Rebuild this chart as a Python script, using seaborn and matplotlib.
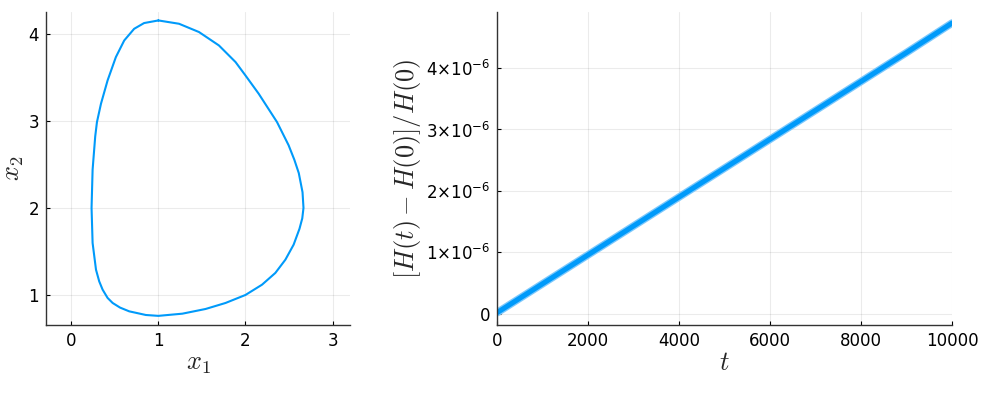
import numpy as np
import matplotlib
matplotlib.use('Agg')
import matplotlib.pyplot as plt
import seaborn as sns
import pandas as pd

# ─── Data ────────────────────────────────────────────────────────────────────
X1 = [1.000, 0.836, 0.722, 0.608, 0.512, 0.417, 0.341, 0.295, 0.275, 0.245,
      0.233, 0.245, 0.284, 0.321, 0.360, 0.417, 0.475, 0.560, 0.665, 0.856,
      1.000, 1.275, 1.542, 1.771, 2.000, 2.190, 2.343, 2.458, 2.553, 2.620,
      2.652, 2.666, 2.655, 2.612, 2.561, 2.495, 2.362, 2.152, 2.000, 1.886,
      1.695, 1.466, 1.237, 1.000]
X2 = [4.153, 4.123, 4.057, 3.923, 3.732, 3.464, 3.196, 2.986, 2.821, 2.439,
      2.000, 1.597, 1.290, 1.156, 1.061, 0.966, 0.908, 0.855, 0.812, 0.770,
      0.760, 0.785, 0.839, 0.908, 1.000, 1.118, 1.253, 1.405, 1.578, 1.760,
      1.880, 2.000, 2.180, 2.400, 2.553, 2.720, 2.986, 3.311, 3.521, 3.675,
      3.866, 4.020, 4.115, 4.153]

T_VALS   = [0, 1000, 2000, 3000, 4000, 5000, 6000, 7000, 8000, 9000, 10000]
REL_ERR  = [0.02, 0.49, 0.96, 1.43, 1.90, 2.37, 2.84, 3.31, 3.78, 4.25, 4.73]  # x1e-6
Y_TICKS  = [0, 1, 2, 3, 4]
Y_LABELS = ['0'] + [f'{k}×10$^{{-6}}$' for k in Y_TICKS[1:]]

BLUE = '#009AFA'

# ─── Style ───────────────────────────────────────────────────────────────────
sns.set_theme(style='ticks')
plt.rcParams['font.family'] = ['DejaVu Sans']
plt.rcParams['mathtext.fontset'] = 'cm'

fig = plt.figure(figsize=(10, 4), dpi=100)
ax1 = fig.add_axes([0.046, 0.1875, 0.304, 0.7825])
ax2 = fig.add_axes([0.497, 0.1875, 0.455, 0.7825])

# ─── Left: orbit ─────────────────────────────────────────────────────────────
orbit = pd.DataFrame({'x1': X1, 'x2': X2})
sns.lineplot(data=orbit, x='x1', y='x2', sort=False, estimator=None,
             color=BLUE, lw=1.5, ax=ax1)
ax1.set_xlim(-0.29, 3.2)
ax1.set_ylim(0.655, 4.25)
ax1.set_xticks([0, 1, 2, 3])
ax1.set_yticks([1, 2, 3, 4])
ax1.set_xlabel('$x_1$', fontsize=19, labelpad=0)
ax1.set_ylabel('$x_2$', fontsize=19, labelpad=2)

# ─── Right: relative energy error ────────────────────────────────────────────
err = pd.DataFrame({'t': T_VALS, 'err': np.array(REL_ERR) * 1e-6})
sns.lineplot(data=err, x='t', y='err', color='#7cc8fc', lw=5.5, ax=ax2)
sns.lineplot(data=err, x='t', y='err', color=BLUE, lw=3.6, ax=ax2)
ax2.set_xlim(0, 10000)
ax2.set_ylim(-0.18e-6, 4.91e-6)
ax2.set_xticks([0, 2000, 4000, 6000, 8000, 10000])
ax2.set_yticks([v * 1e-6 for v in Y_TICKS])
ax2.set_yticklabels(Y_LABELS, math_fontfamily='dejavusans')
ax2.set_xlabel('$t$', fontsize=19, labelpad=0)
ax2.set_ylabel('$[H(t)-H(0)]/H(0)$', fontsize=19, labelpad=2)

for ax in (ax1, ax2):
    ax.grid(True, color='black', alpha=0.08, lw=0.8)
    sns.despine(ax=ax)
    ax.tick_params(direction='in', length=3, width=0.8, labelsize=12,
                   colors='black', pad=5)
    for s in ('left', 'bottom'):
        ax.spines[s].set_color('#333333')
        ax.spines[s].set_linewidth(1.0)

fig.savefig('out.png', dpi=100)
